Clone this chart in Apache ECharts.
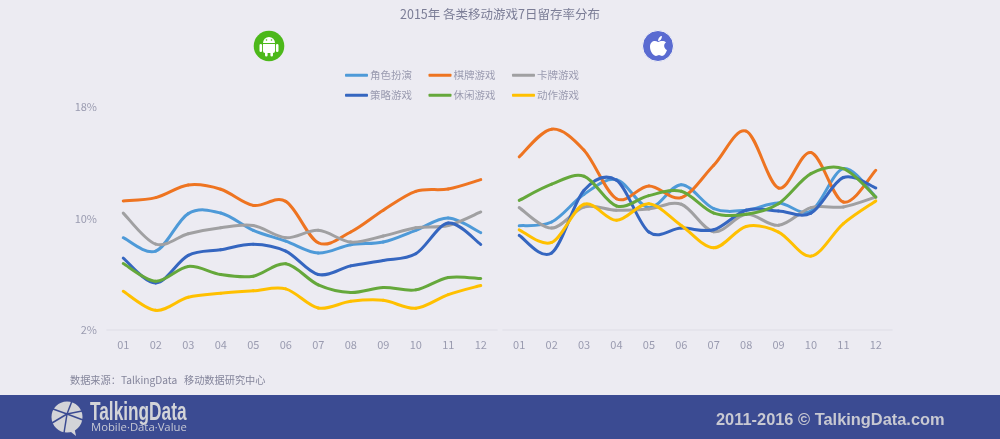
<!DOCTYPE html>
<html>
<head>
<meta charset="UTF-8">
<title>2015年 各类移动游戏7日留存率分布</title>
<script src="https://cdn.jsdelivr.net/npm/echarts@6/dist/echarts.min.js"></script>
<style>
html, body { margin: 0; padding: 0; background: #ecebf2; }
#chart { width: 1000px; height: 439px; }
</style>
</head>
<body>
<div id="chart"></div>
<script>
var months = ['01','02','03','04','05','06','07','08','09','10','11','12'];
var yLabelValues = [2, 10, 18];
var seriesNames = ['角色扮演','棋牌游戏','卡牌游戏','策略游戏','休闲游戏','动作游戏'];
var seriesColors = ['#4e9ad8','#ee7421','#a0a0a2','#3566c0','#65a83b','#ffc000'];

// Android
var androidRole = [8.62,7.66,10.35,10.39,9.15,8.38,7.52,8.12,8.31,9.15,10.03,8.98];
var androidChess = [11.26,11.5,12.41,12.1,10.94,11.23,8.26,9.03,10.59,11.95,12.12,12.79];
var androidCard = [10.39,8.16,8.91,9.34,9.5,8.62,9.15,8.31,8.74,9.34,9.5,10.47];
var androidStrategy = [7.16,5.38,7.35,7.76,8.16,7.66,5.98,6.6,6.99,7.47,9.67,8.14];
var androidCasual = [6.77,5.5,6.56,5.98,5.86,6.75,5.24,4.69,5.05,4.88,5.77,5.69];
var androidAction = [4.78,3.41,4.35,4.64,4.81,4.95,3.58,4.06,4.13,3.56,4.54,5.19];

// iOS
var iosRole = [9.48,9.75,11.74,12.79,10.78,12.43,10.71,10.59,11.11,10.54,13.58,11.54];
var iosChess = [14.42,16.41,14.9,11.42,12.34,11.5,13.82,16.27,12.19,14.73,11.18,13.46];
var iosCard = [10.78,9.31,10.83,10.59,10.68,11.02,9.05,10.3,9.51,10.78,10.83,11.54];
var iosStrategy = [8.79,7.52,12.02,12.74,9.03,9.31,9.19,10.59,10.54,10.39,12.94,12.19];
var iosCasual = [11.3,12.46,13.03,10.9,11.64,11.95,10.39,10.3,11.06,13.22,13.58,11.54];
var iosAction = [9.19,8.28,11.02,9.87,11.06,9.5,7.9,9.43,9.03,7.3,9.63,11.26];

var androidData = [androidRole,androidChess,androidCard,androidStrategy,androidCasual,androidAction];
var iosData = [iosRole,iosChess,iosCard,iosStrategy,iosCasual,iosAction];

var textColor = '#9a9bb0';
var fontName = '"Noto Sans CJK SC", "Noto Sans", sans-serif';

// line系列的smooth不会越过数据点，原图的曲线会，所以用custom系列画每一段
function renderSegment(values, color) {
    return function(params, api) {
        var i = params.dataIndex;
        if (i >= values.length - 1) {
            return null;
        }
        var p0 = api.coord([Math.max(i - 1, 0), values[Math.max(i - 1, 0)]]);
        var p1 = api.coord([i, values[i]]);
        var p2 = api.coord([i + 1, values[i + 1]]);
        var k = Math.min(i + 2, values.length - 1);
        var p3 = api.coord([k, values[k]]);
        return {
            type: 'bezierCurve',
            shape: {
                x1: p1[0], y1: p1[1],
                x2: p2[0], y2: p2[1],
                cpx1: p1[0] + (p2[0] - p0[0]) / 6,
                cpy1: p1[1] + (p2[1] - p0[1]) / 6,
                cpx2: p2[0] - (p3[0] - p1[0]) / 6,
                cpy2: p2[1] - (p3[1] - p1[1]) / 6
            },
            style: { stroke: color, lineWidth: 3, lineCap: 'round', fill: null }
        };
    };
}

function makeSeries(list, axisIndex) {
    return list.map(function(values, i) {
        return {
            name: seriesNames[i],
            type: 'custom',
            xAxisIndex: axisIndex,
            yAxisIndex: axisIndex,
            data: values.map(function(v, n) { return [n, v]; }),
            encode: { x: 0, y: 1 },
            renderItem: renderSegment(values, seriesColors[i]),
            animation: false,
            silent: true,
            itemStyle: { color: seriesColors[i] }
        };
    });
}

function makeXAxis(gridIndex) {
    return {
        type: 'category',
        gridIndex: gridIndex,
        data: months,
        axisLine: { lineStyle: { color: '#e2e2ea', width: 1.5 } },
        axisTick: { show: false },
        axisLabel: { color: textColor, fontSize: 11, margin: 9, fontFamily: fontName }
    };
}

function makeYAxis(gridIndex, showLabels) {
    return {
        type: 'value',
        gridIndex: gridIndex,
        min: 2,
        max: 18,
        interval: 2,
        splitLine: { show: false },
        axisLine: { show: false },
        axisTick: { show: false },
        axisLabel: {
            show: showLabels,
            color: textColor,
            fontSize: 11,
            margin: 10,
            fontFamily: fontName,
            formatter: function(v) {
                return yLabelValues.indexOf(v) >= 0 ? v + '%' : '';
            }
        }
    };
}

function makeLegend(names, top) {
    return {
        data: names,
        left: 340,
        top: top,
        itemWidth: 23,
        itemHeight: 3,
        itemGap: 16.5,
        icon: 'roundRect',
        selectedMode: false,
        textStyle: { color: textColor, fontSize: 10.5, fontFamily: fontName, padding: [0, 0, 0, -3] }
    };
}

// 苹果图标
echarts.graphic.registerShape('appleIcon', echarts.graphic.extendPath('M658 42 C655 40 650 41 650 47 C650 52 654 56 656 56 C657 56 658 55 659 55 C660 55 661 56 662 56 C664 56 666 53 667 50 C664 49 663 44 666 42.5 C664 40 660 41 658 42 Z M658 41 C658 38 660 36 662 36 C662 39 660 41 658 41 Z'));

function footerLine(x, y) {
    return { type: 'polyline', shape: { points: [[67, 414], [x, y]] }, style: { stroke: '#3b4b92', lineWidth: 1.5, fill: null }, z: 3 };
}

var decorations = [
    { type: 'rect', shape: { x: 0, y: 395, width: 1000, height: 44 }, style: { fill: '#3b4b92' }, z: 1 },
    {
        type: 'group',
        x: 2,
        children: [
            { type: 'circle', shape: { cx: 267, cy: 46, r: 15.3 }, style: { fill: '#4cb81a' }, z: 2 },
            { type: 'rect', shape: { x: 261, y: 44, width: 12, height: 9, r: [0, 0, 2, 2] }, style: { fill: '#fff' }, z: 3 },
            { type: 'rect', shape: { x: 257.5, y: 44, width: 2.6, height: 8, r: 1.3 }, style: { fill: '#fff' }, z: 3 },
            { type: 'rect', shape: { x: 273.9, y: 44, width: 2.6, height: 8, r: 1.3 }, style: { fill: '#fff' }, z: 3 },
            { type: 'rect', shape: { x: 263, y: 52, width: 2.6, height: 4.5, r: 1.3 }, style: { fill: '#fff' }, z: 3 },
            { type: 'rect', shape: { x: 268.4, y: 52, width: 2.6, height: 4.5, r: 1.3 }, style: { fill: '#fff' }, z: 3 },
            { type: 'sector', shape: { cx: 267, cy: 43, r: 6, startAngle: Math.PI, endAngle: Math.PI * 2 }, style: { fill: '#fff' }, z: 3 },
            { type: 'circle', shape: { cx: 264.5, cy: 40, r: 0.8 }, style: { fill: '#4cb81a' }, z: 4 },
            { type: 'circle', shape: { cx: 269.5, cy: 40, r: 0.8 }, style: { fill: '#4cb81a' }, z: 4 }
        ]
    },
    { type: 'circle', shape: { cx: 658, cy: 46, r: 15.5 }, style: { fill: '#5a6bd1', stroke: '#f4f4f8', lineWidth: 1 }, z: 2 },
    { type: 'appleIcon', style: { fill: '#fff' }, z: 3 },
    // TalkingData logo
    { type: 'circle', shape: { cx: 67, cy: 417, r: 15.5 }, style: { fill: '#d3d4d8' }, z: 2 },
    { type: 'polygon', shape: { points: [[66, 428], [76, 436], [74, 426]] }, style: { fill: '#d3d4d8' }, z: 2 },
    footerLine(72, 401), footerLine(82, 411), footerLine(53, 409), footerLine(52, 423), footerLine(83, 420), footerLine(64, 433),
    { type: 'text', x: 90, y: 401, scaleX: 0.69, z: 3, style: { text: 'TalkingData', fill: '#d3d4d8', font: 'bold 25px "Liberation Sans", sans-serif', verticalAlign: 'top' } },
    { type: 'text', left: 91, top: 422, z: 3, style: { text: 'Mobile·Data·Value', fill: '#c6c8d4', font: '11.3px "Open Sans", sans-serif' } },
    { type: 'text', left: 716, top: 412, z: 3, style: { text: '2011-2016 © TalkingData.com', fill: '#c8c9d2', font: 'bold 16.4px "Liberation Sans", sans-serif' } },
    { type: 'text', left: 70, top: 375, z: 3, style: { text: '数据来源：TalkingData   移动数据研究中心', fill: '#85869c', font: '10.2px ' + fontName } }
];

var myChart = echarts.init(document.getElementById('chart'), null, { renderer: 'canvas' });
myChart.setOption({
    backgroundColor: '#ecebf2',
    animation: false,
    title: {
        text: '2015年 各类移动游戏7日留存率分布',
        left: 'center',
        top: 3,
        textStyle: { color: '#7b7d96', fontSize: 12.5, fontWeight: 'normal', fontFamily: fontName }
    },
    legend: [
        makeLegend(seriesNames.slice(0, 3), 65),
        makeLegend(seriesNames.slice(3, 6), 85)
    ],
    grid: [
        { left: 107, top: 107, width: 390, height: 223 },
        { left: 503, top: 107, width: 389, height: 223 }
    ],
    xAxis: [makeXAxis(0), makeXAxis(1)],
    yAxis: [makeYAxis(0, true), makeYAxis(1, false)],
    series: makeSeries(androidData, 0).concat(makeSeries(iosData, 1)),
    graphic: decorations
});
</script>
</body>
</html>
